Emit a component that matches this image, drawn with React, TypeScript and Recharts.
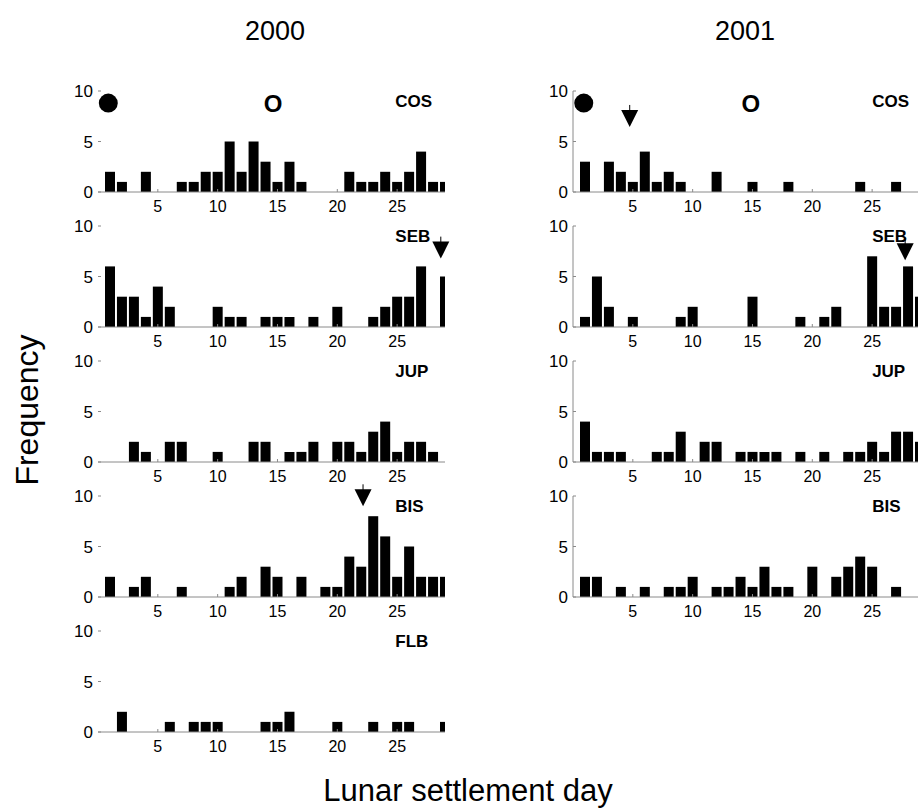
import React from 'react';
import { BarChart, Bar, XAxis, YAxis, ReferenceDot } from 'recharts';

// lunar day of settlement, 1..29
const DAYS = [1, 2, 3, 4, 5, 6, 7, 8, 9, 10, 11, 12, 13, 14, 15, 16, 17, 18, 19, 20, 21, 22, 23, 24, 25, 26, 27, 28, 29];
const X_TICKS = [5, 10, 15, 20, 25];
const Y_TICKS = [0, 5, 10];

// frequency per day, 2000
const cos2000 = [2, 1, 0, 2, 0, 0, 1, 1, 2, 2, 5, 2, 5, 3, 1, 3, 1, 0, 0, 0, 2, 1, 1, 2, 1, 2, 4, 1, 1];
const seb2000 = [6, 3, 3, 1, 4, 2, 0, 0, 0, 2, 1, 1, 0, 1, 1, 1, 0, 1, 0, 2, 0, 0, 1, 2, 3, 3, 6, 0, 5];
const jup2000 = [0, 0, 2, 1, 0, 2, 2, 0, 0, 1, 0, 0, 2, 2, 0, 1, 1, 2, 0, 2, 2, 1, 3, 4, 1, 2, 2, 1, 0];
const bis2000 = [2, 0, 1, 2, 0, 0, 1, 0, 0, 0, 1, 2, 0, 3, 2, 0, 2, 0, 1, 1, 4, 3, 8, 6, 2, 5, 2, 2, 2];
const flb2000 = [0, 2, 0, 0, 0, 1, 0, 1, 1, 1, 0, 0, 0, 1, 1, 2, 0, 0, 0, 1, 0, 0, 1, 0, 1, 1, 0, 0, 1];

// frequency per day, 2001
const cos2001 = [3, 0, 3, 2, 1, 4, 1, 2, 1, 0, 0, 2, 0, 0, 1, 0, 0, 1, 0, 0, 0, 0, 0, 1, 0, 0, 1, 0, 0];
const seb2001 = [1, 5, 2, 0, 1, 0, 0, 0, 1, 2, 0, 0, 0, 0, 3, 0, 0, 0, 1, 0, 1, 2, 0, 0, 7, 2, 2, 6, 3];
const jup2001 = [4, 1, 1, 1, 0, 0, 1, 1, 3, 0, 2, 2, 0, 1, 1, 1, 1, 0, 1, 0, 1, 0, 1, 1, 2, 1, 3, 3, 2];
const bis2001 = [2, 2, 0, 1, 0, 1, 0, 1, 1, 2, 0, 1, 1, 2, 1, 3, 1, 1, 0, 3, 0, 2, 3, 4, 3, 0, 1, 0, 0];

// moon phase symbols and arrows: [day, frequency]
const newMoon2000 = [0.86, 8.8];
const fullMoon2000 = [14.63, 8.8];
const newMoon2001 = [0.9, 8.8];
const fullMoon2001 = [14.86, 8.8];
const arrowSeb2000 = [28.65, 6.77];
const arrowBis2000 = [22.15, 8.98];
const arrowCos2001 = [4.74, 6.44];
const arrowSeb2001 = [27.76, 6.6];

const FONT = '"Liberation Sans", Arial, Helvetica, sans-serif';
const AXIS = '#8a8a8a';
const PLOT_W = 347;
const PLOT_H = 101;
const Y_W = 60;
const TOP = 30;

const ROWS = [91, 226, 361, 496, 631];
const COL_LEFT = 98;
const COL_RIGHT = 572.5;

type Mark = { kind: 'circle' | 'O' | 'arrow'; at: number[] };

const arrowShape = (p: any) => {
  const { cx, cy } = p;
  return (
    <g>
      <line x1={cx} y1={cy - 22} x2={cx} y2={cy - 16} stroke="#000" strokeWidth={1} />
      <path d={`M${cx - 8.5},${cy - 17} L${cx + 8.5},${cy - 17} L${cx},${cy} Z`} fill="#000" />
    </g>
  );
};

const oShape = (p: any) => (
  <text x={p.cx} y={p.cy} textAnchor="middle" dominantBaseline="central" fontFamily={FONT} fontWeight="bold" fontSize={24} fill="#000">
    O
  </text>
);

function Panel({ x, y, values, name, marks, yLine }: { x: number; y: number; values: number[]; name: string; marks: Mark[]; yLine: boolean }) {
  const data = DAYS.map((d, i) => ({ day: d, n: values[i] }));
  return (
    <div style={{ position: 'absolute', left: x - Y_W, top: y - TOP }}>
      <BarChart width={Y_W + PLOT_W + 20} height={TOP + PLOT_H + 30} data={data} margin={{ top: TOP, right: 20, bottom: 0, left: 0 }}>
        <XAxis
          dataKey="day"
          type="number"
          domain={[0, 29]}
          ticks={X_TICKS}
          interval={0}
          allowDataOverflow
          height={30}
          stroke={AXIS}
          tickSize={-3}
          tickMargin={12}
          tick={{ fill: '#000', fontSize: 16, fontFamily: FONT }}
        />
        <YAxis
          type="number"
          domain={[0, 10]}
          ticks={Y_TICKS}
          interval={0}
          width={Y_W}
          axisLine={yLine ? { stroke: AXIS } : false}
          tickLine={{ stroke: AXIS }}
          tickSize={-3}
          tickMargin={8}
          tick={{ fill: '#000', fontSize: 17, fontFamily: FONT }}
        />
        <Bar dataKey="n" fill="#000" barSize={10} isAnimationActive={false} />
        {marks.map((m, i) =>
          m.kind === 'circle' ? (
            <ReferenceDot key={i} x={m.at[0]} y={m.at[1]} r={9.5} fill="#000" stroke="none" ifOverflow="visible" />
          ) : m.kind === 'O' ? (
            <ReferenceDot key={i} x={m.at[0]} y={m.at[1]} ifOverflow="visible" shape={oShape} />
          ) : (
            <ReferenceDot key={i} x={m.at[0]} y={m.at[1]} ifOverflow="visible" shape={arrowShape} />
          )
        )}
        <ReferenceDot
          x={yLine ? 25 : 24.85}
          y={9}
          ifOverflow="visible"
          shape={(p: any) => (
            <text x={p.cx} y={p.cy} dominantBaseline="central" fontFamily={FONT} fontWeight="bold" fontSize={17} fill="#000">
              {name}
            </text>
          )}
        />
      </BarChart>
    </div>
  );
}

const txt = (s: string, left: number, top: number, size: number, rotate = 0) => (
  <div
    style={{
      position: 'absolute',
      left,
      top,
      transform: `translate(-50%, -50%) rotate(${rotate}deg)`,
      fontSize: size,
      lineHeight: 1,
      whiteSpace: 'nowrap',
      fontFamily: FONT,
      color: '#000',
    }}
  >
    {s}
  </div>
);

export default function App() {
  return (
    <div style={{ position: 'absolute', left: 0, top: 0, width: 918, height: 811, overflow: 'hidden', background: '#fff' }}>
      {txt('2000', 275, 31, 27)}
      {txt('2001', 745, 31, 27)}
      {txt('Frequency', 27, 410, 32, -90)}
      {txt('Lunar settlement day', 468, 790, 31)}

      <Panel x={COL_LEFT} y={ROWS[0]} values={cos2000} name="COS" yLine={false}
        marks={[{ kind: 'circle', at: newMoon2000 }, { kind: 'O', at: fullMoon2000 }]} />
      <Panel x={COL_LEFT} y={ROWS[1]} values={seb2000} name="SEB" yLine={false} marks={[{ kind: 'arrow', at: arrowSeb2000 }]} />
      <Panel x={COL_LEFT} y={ROWS[2]} values={jup2000} name="JUP" yLine={false} marks={[]} />
      <Panel x={COL_LEFT} y={ROWS[3]} values={bis2000} name="BIS" yLine={false} marks={[{ kind: 'arrow', at: arrowBis2000 }]} />
      <Panel x={COL_LEFT} y={ROWS[4]} values={flb2000} name="FLB" yLine={false} marks={[]} />

      <Panel x={COL_RIGHT} y={ROWS[0]} values={cos2001} name="COS" yLine
        marks={[{ kind: 'circle', at: newMoon2001 }, { kind: 'O', at: fullMoon2001 }, { kind: 'arrow', at: arrowCos2001 }]} />
      <Panel x={COL_RIGHT} y={ROWS[1]} values={seb2001} name="SEB" yLine marks={[{ kind: 'arrow', at: arrowSeb2001 }]} />
      <Panel x={COL_RIGHT} y={ROWS[2]} values={jup2001} name="JUP" yLine marks={[]} />
      <Panel x={COL_RIGHT} y={ROWS[3]} values={bis2001} name="BIS" yLine marks={[]} />
    </div>
  );
}
